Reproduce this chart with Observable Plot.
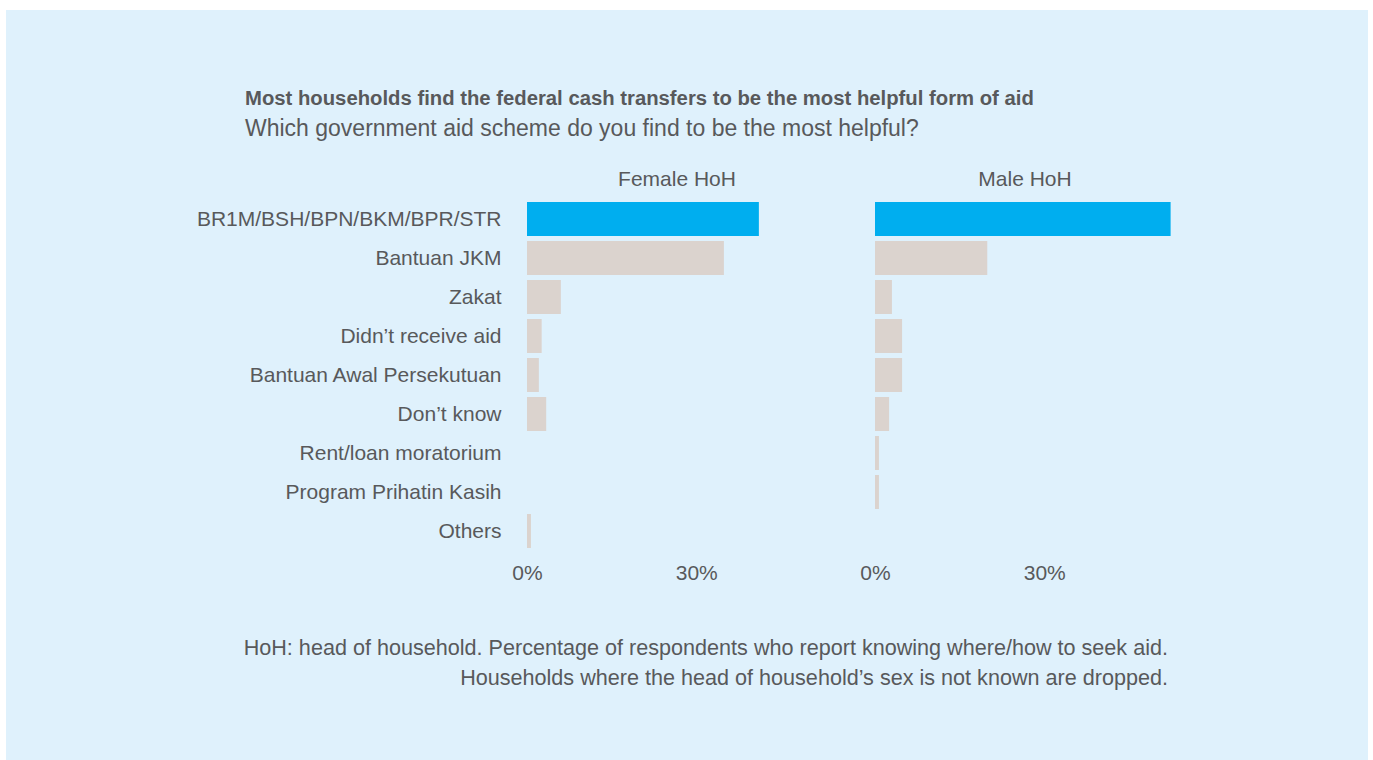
<!DOCTYPE html>
<html>
<head>
<meta charset="utf-8">
<script src="https://cdn.jsdelivr.net/npm/d3@7"></script>
<script src="https://cdn.jsdelivr.net/npm/@observablehq/plot@0.6"></script>
<style>
  html, body { margin: 0; padding: 0; background: #ffffff; }
  body { width: 1373px; height: 760px; position: relative; overflow: hidden; font-family: "Liberation Sans", Arial, sans-serif; color: #58595b; }
  #panel { position: absolute; left: 6px; top: 10px; width: 1362px; height: 750px; background: #dff1fc; }
  #title { position: absolute; left: 239px; top: 78px; font-size: 20.3px; line-height: 1; font-weight: bold; white-space: nowrap; }
  #subtitle { position: absolute; left: 239px; top: 107px; font-size: 23px; line-height: 1; white-space: nowrap; }
  #chart { position: absolute; left: 0; top: 137px; }
  #chart svg { display: block; }
  #caption { position: absolute; left: 139px; width: 1023px; top: 623px; font-size: 21.6px; line-height: 30px; text-align: right; }
</style>
</head>
<body>
<div id="panel">
  <div id="title">Most households find the federal cash transfers to be the most helpful form of aid</div>
  <div id="subtitle">Which government aid scheme do you find to be the most helpful?</div>
  <div id="chart"></div>
  <div id="caption">HoH: head of household. Percentage of respondents who report knowing where/how to seek aid.<br>Households where the head of household’s sex is not known are dropped.</div>
</div>
<script>
const categories = [
  "BR1M/BSH/BPN/BKM/BPR/STR",
  "Bantuan JKM",
  "Zakat",
  "Didn’t receive aid",
  "Bantuan Awal Persekutuan",
  "Don’t know",
  "Rent/loan moratorium",
  "Program Prihatin Kasih",
  "Others"
];
const groups = ["Female HoH", "Male HoH"];
const femaleValues = [41.1, 34.9, 6.0, 2.6, 2.1, 3.4, 0, 0, 0.7];
const maleValues = [52.4, 19.9, 3.0, 4.8, 4.8, 2.5, 0.7, 0.7, 0];
const xTicks = [0, 30];

const rows = [];
categories.forEach((c, i) => {
  rows.push({group: groups[0], category: c, value: femaleValues[i], kind: i === 0 ? "highlight" : "other"});
  rows.push({group: groups[1], category: c, value: maleValues[i], kind: i === 0 ? "highlight" : "other"});
});

const chart = Plot.plot({
  width: 1190,
  height: 446,
  marginLeft: 520,
  marginRight: 21,
  marginTop: 50,
  marginBottom: 40,
  style: {background: "transparent", fontSize: "21px", fontFamily: "'Liberation Sans', Arial, sans-serif", color: "#58595b"},
  x: {domain: [0, 53], ticks: xTicks, tickFormat: d => d + "%", tickSize: 0, tickPadding: 12, label: null},
  y: {domain: categories, padding: 0.128, tickSize: 0, tickPadding: 26, label: null},
  fx: {domain: groups, paddingInner: 0.1404, paddingOuter: 0, axis: "top", tickSize: 0, tickPadding: 12, label: null},
  color: {domain: ["highlight", "other"], range: ["#00aeef", "#dbd3ce"]},
  marks: [
    Plot.barX(rows, {fx: "group", y: "category", x: "value", fill: "kind"})
  ]
});
document.getElementById("chart").appendChild(chart);
</script>
</body>
</html>
